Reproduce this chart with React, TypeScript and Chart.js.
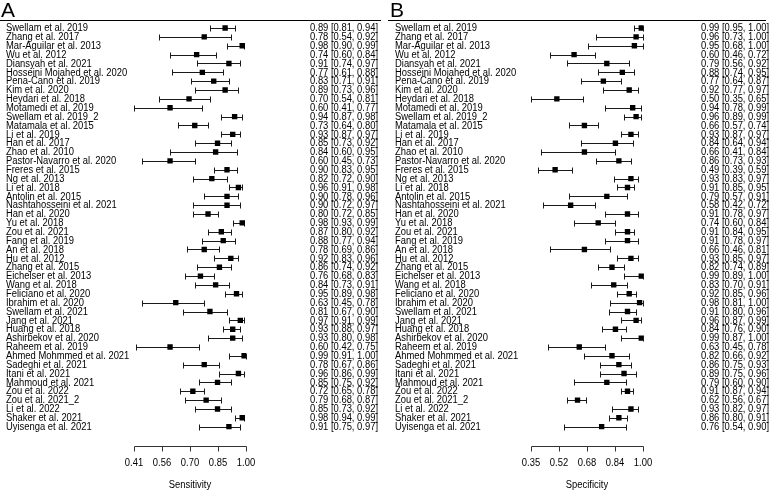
import React, { useEffect, useRef } from "react";
import { Chart, registerables } from "chart.js";

Chart.register(...registerables);

const studies = [
  "Swellam et al. 2019", "Zhang et al. 2017", "Mar-Aguilar et al. 2013", "Wu et al. 2012",
  "Diansyah et al. 2021", "Hosseini Mojahed et al. 2020", "Pena-Cano et al. 2019", "Kim et al. 2020",
  "Heydari et al. 2018", "Motamedi et al. 2019", "Swellam et al. 2019_2", "Matamala et al. 2015",
  "Li et al. 2019", "Han et al. 2017", "Zhao et al. 2010", "Pastor-Navarro et al. 2020",
  "Freres et al. 2015", "Ng et al. 2013", "Li et al. 2018", "Antolin et al. 2015",
  "Nashtahosseini et al. 2021", "Han et al. 2020", "Yu et al. 2018", "Zou et al. 2021",
  "Fang et al. 2019", "An et al. 2018", "Hu et al. 2012", "Zhang et al. 2015",
  "Eichelser et al. 2013", "Wang et al. 2018", "Feliciano et al. 2020", "Ibrahim et al. 2020",
  "Swellam et al. 2021", "Jang et al. 2021", "Huang et al. 2018", "Ashirbekov et al. 2020",
  "Raheem et al. 2019", "Ahmed Mohmmed et al. 2021", "Sadeghi et al. 2021", "Itani et al. 2021",
  "Mahmoud et al. 2021", "Zou et al. 2022", "Zou et al. 2021_2", "Li et al. 2022",
  "Shaker et al. 2021", "Uyisenga et al. 2021",
];

const sensEst = [0.89, 0.78, 0.98, 0.74, 0.91, 0.77, 0.83, 0.89, 0.70, 0.60, 0.94, 0.73, 0.93, 0.85, 0.84, 0.60, 0.90, 0.82, 0.96, 0.90, 0.90, 0.80, 0.98, 0.87, 0.88, 0.78, 0.92, 0.86, 0.76, 0.84, 0.95, 0.63, 0.81, 0.97, 0.93, 0.93, 0.60, 0.99, 0.78, 0.96, 0.85, 0.72, 0.79, 0.85, 0.98, 0.91];
const sensLo = [0.81, 0.54, 0.90, 0.60, 0.74, 0.61, 0.71, 0.73, 0.54, 0.41, 0.87, 0.64, 0.87, 0.73, 0.60, 0.45, 0.83, 0.72, 0.91, 0.78, 0.72, 0.72, 0.93, 0.80, 0.77, 0.69, 0.83, 0.74, 0.68, 0.73, 0.89, 0.45, 0.67, 0.91, 0.88, 0.80, 0.42, 0.91, 0.67, 0.86, 0.75, 0.65, 0.68, 0.73, 0.94, 0.75];
const sensHi = [0.94, 0.92, 0.99, 0.84, 0.97, 0.88, 0.91, 0.96, 0.81, 0.77, 0.98, 0.80, 0.97, 0.92, 0.95, 0.73, 0.95, 0.90, 0.98, 0.96, 0.97, 0.85, 0.99, 0.92, 0.94, 0.86, 0.96, 0.92, 0.83, 0.91, 0.98, 0.78, 0.90, 0.99, 0.97, 0.98, 0.75, 1.00, 0.86, 0.99, 0.92, 0.78, 0.87, 0.92, 0.99, 0.97];

const specEst = [0.99, 0.96, 0.95, 0.60, 0.79, 0.88, 0.77, 0.92, 0.50, 0.94, 0.96, 0.66, 0.93, 0.84, 0.66, 0.86, 0.49, 0.93, 0.91, 0.79, 0.58, 0.91, 0.74, 0.91, 0.91, 0.66, 0.93, 0.82, 0.99, 0.83, 0.92, 0.98, 0.91, 0.96, 0.84, 0.99, 0.63, 0.82, 0.86, 0.89, 0.79, 0.91, 0.62, 0.93, 0.86, 0.76];
const specLo = [0.95, 0.73, 0.68, 0.46, 0.56, 0.74, 0.64, 0.77, 0.35, 0.78, 0.89, 0.57, 0.87, 0.64, 0.41, 0.73, 0.39, 0.83, 0.85, 0.57, 0.42, 0.78, 0.60, 0.84, 0.78, 0.46, 0.85, 0.74, 0.89, 0.70, 0.85, 0.81, 0.80, 0.87, 0.76, 0.87, 0.45, 0.66, 0.75, 0.75, 0.60, 0.87, 0.56, 0.82, 0.80, 0.54];
const specHi = [1.00, 1.00, 1.00, 0.72, 0.92, 0.95, 0.87, 0.97, 0.65, 0.99, 0.99, 0.74, 0.97, 0.94, 0.84, 0.93, 0.59, 0.97, 0.95, 0.91, 0.72, 0.97, 0.84, 0.95, 0.97, 0.81, 0.97, 0.89, 1.00, 0.91, 0.96, 1.00, 0.96, 0.99, 0.90, 1.00, 0.78, 0.92, 0.93, 0.96, 0.90, 0.94, 0.67, 0.97, 0.91, 0.90];

const sensTickValues = [0.41, 0.5575, 0.705, 0.8525, 1.0];
const sensTickLabels = ["0.41", "0.56", "0.70", "0.85", "1.00"];
const specTickValues = [0.35, 0.5125, 0.675, 0.8375, 1.0];
const specTickLabels = ["0.35", "0.52", "0.68", "0.84", "1.00"];

const FONT = "'Liberation Sans', Arial, Helvetica, sans-serif";
const H = 492;
const SX = 0.94;

type PanelProps = {
  letter: string;
  est: number[];
  lo: number[];
  hi: number[];
  tickValues: number[];
  tickLabels: string[];
  axisTitle: string;
  width: number;
  padLeft: number;
  padRight: number;
  labelX: number;
  valueRight: number;
  ruleRight: number;
};

function fmt(v: number) {
  return v.toFixed(2);
}

function sText(ctx: CanvasRenderingContext2D, text: string, x: number, y: number) {
  ctx.save();
  ctx.translate(x, y);
  ctx.scale(SX, 1);
  ctx.fillText(text, 0, 0);
  ctx.restore();
}

function Panel(p: PanelProps) {
  const ref = useRef<HTMLCanvasElement>(null);
  useEffect(() => {
    const canvas = ref.current!;
    const forestPlugin = {
      id: "forest" + p.letter,
      beforeDatasetsDraw(chart: any) {
        const ctx = chart.ctx;
        const xs = chart.scales.x;
        const ys = chart.scales.y;
        ctx.save();
        ctx.strokeStyle = "#1a1a1a";
        ctx.lineWidth = 1;
        for (let i = 0; i < p.est.length; i++) {
          const y = Math.round(ys.getPixelForValue(i)) + 0.5;
          const x1 = Math.round(xs.getPixelForValue(p.lo[i])) + 0.5;
          const x2 = Math.round(xs.getPixelForValue(p.hi[i])) + 0.5;
          ctx.beginPath();
          ctx.moveTo(x1, y);
          ctx.lineTo(x2, y);
          ctx.moveTo(x1, y - 3);
          ctx.lineTo(x1, y + 3);
          ctx.moveTo(x2, y - 3);
          ctx.lineTo(x2, y + 3);
          ctx.stroke();
        }
        ctx.restore();
      },
      afterDraw(chart: any) {
        const ctx = chart.ctx;
        const xs = chart.scales.x;
        const ys = chart.scales.y;
        ctx.save();
        ctx.fillStyle = "#000";
        ctx.font = `21px ${FONT}`;
        ctx.textBaseline = "alphabetic";
        ctx.textAlign = "left";
        ctx.fillText(p.letter, p.labelX - 5, 17);
        ctx.strokeStyle = "#000";
        ctx.lineWidth = 1;
        ctx.beginPath();
        ctx.moveTo(p.labelX - 7, 20.5);
        ctx.lineTo(p.ruleRight, 20.5);
        ctx.stroke();
        ctx.font = `10px ${FONT}`;
        ctx.textBaseline = "middle";
        for (let i = 0; i < studies.length; i++) {
          const y = ys.getPixelForValue(i) + 0.5;
          ctx.textAlign = "left";
          sText(ctx, studies[i], p.labelX, y);
          ctx.textAlign = "right";
          sText(ctx, `${fmt(p.est[i])} [${fmt(p.lo[i])}, ${fmt(p.hi[i])}]`, p.valueRight, y);
        }
        const axisY = 446.5;
        const xa = Math.round(xs.getPixelForValue(p.tickValues[0])) + 0.5;
        const xb = Math.round(xs.getPixelForValue(p.tickValues[p.tickValues.length - 1])) + 0.5;
        ctx.strokeStyle = "#333";
        ctx.beginPath();
        ctx.moveTo(xa, axisY);
        ctx.lineTo(xb, axisY);
        p.tickValues.forEach((v) => {
          const x = Math.round(xs.getPixelForValue(v)) + 0.5;
          ctx.moveTo(x, axisY);
          ctx.lineTo(x, axisY + 5);
        });
        ctx.stroke();
        ctx.textAlign = "center";
        ctx.textBaseline = "middle";
        p.tickValues.forEach((v, k) => {
          sText(ctx, p.tickLabels[k], xs.getPixelForValue(v), 463.5);
        });
        sText(ctx, p.axisTitle, (xs.left + xs.right) / 2, 485);
        ctx.restore();
      },
    };

    const chart = new Chart(canvas, {
      type: "scatter",
      data: {
        datasets: [
          {
            data: p.est.map((v, i) => ({ x: v, y: i })),
            pointStyle: "rect",
            pointRadius: 3.8,
            backgroundColor: "#000",
            borderColor: "#000",
            borderWidth: 0,
          },
        ],
      },
      options: {
        responsive: false,
        animation: false,
        events: [],
        layout: { padding: { left: p.padLeft, right: p.padRight, top: 23.6, bottom: H - 431.1 } },
        plugins: { legend: { display: false }, tooltip: { enabled: false } },
        scales: {
          x: { type: "linear", min: p.tickValues[0], max: p.tickValues[p.tickValues.length - 1], display: false },
          y: { type: "linear", min: -0.5, max: studies.length - 0.5, reverse: true, display: false },
        },
      },
      plugins: [forestPlugin],
    });
    return () => chart.destroy();
  }, []);
  return <canvas ref={ref} width={p.width} height={H} style={{ display: "block", width: p.width, height: H }} />;
}

export default function App() {
  return (
    <div style={{ position: "absolute", left: 0, top: 0, width: 777, height: H, background: "#fff", display: "flex" }}>
      <Panel
        letter="A"
        est={sensEst}
        lo={sensLo}
        hi={sensHi}
        tickValues={sensTickValues}
        tickLabels={sensTickLabels}
        axisTitle="Sensitivity"
        width={388}
        padLeft={134}
        padRight={142}
        labelX={6}
        valueRight={378}
        ruleRight={381}
      />
      <Panel
        letter="B"
        est={specEst}
        lo={specLo}
        hi={specHi}
        tickValues={specTickValues}
        tickLabels={specTickLabels}
        axisTitle="Specificity"
        width={389}
        padLeft={143}
        padRight={134}
        labelX={7}
        valueRight={381}
        ruleRight={378}
      />
    </div>
  );
}
